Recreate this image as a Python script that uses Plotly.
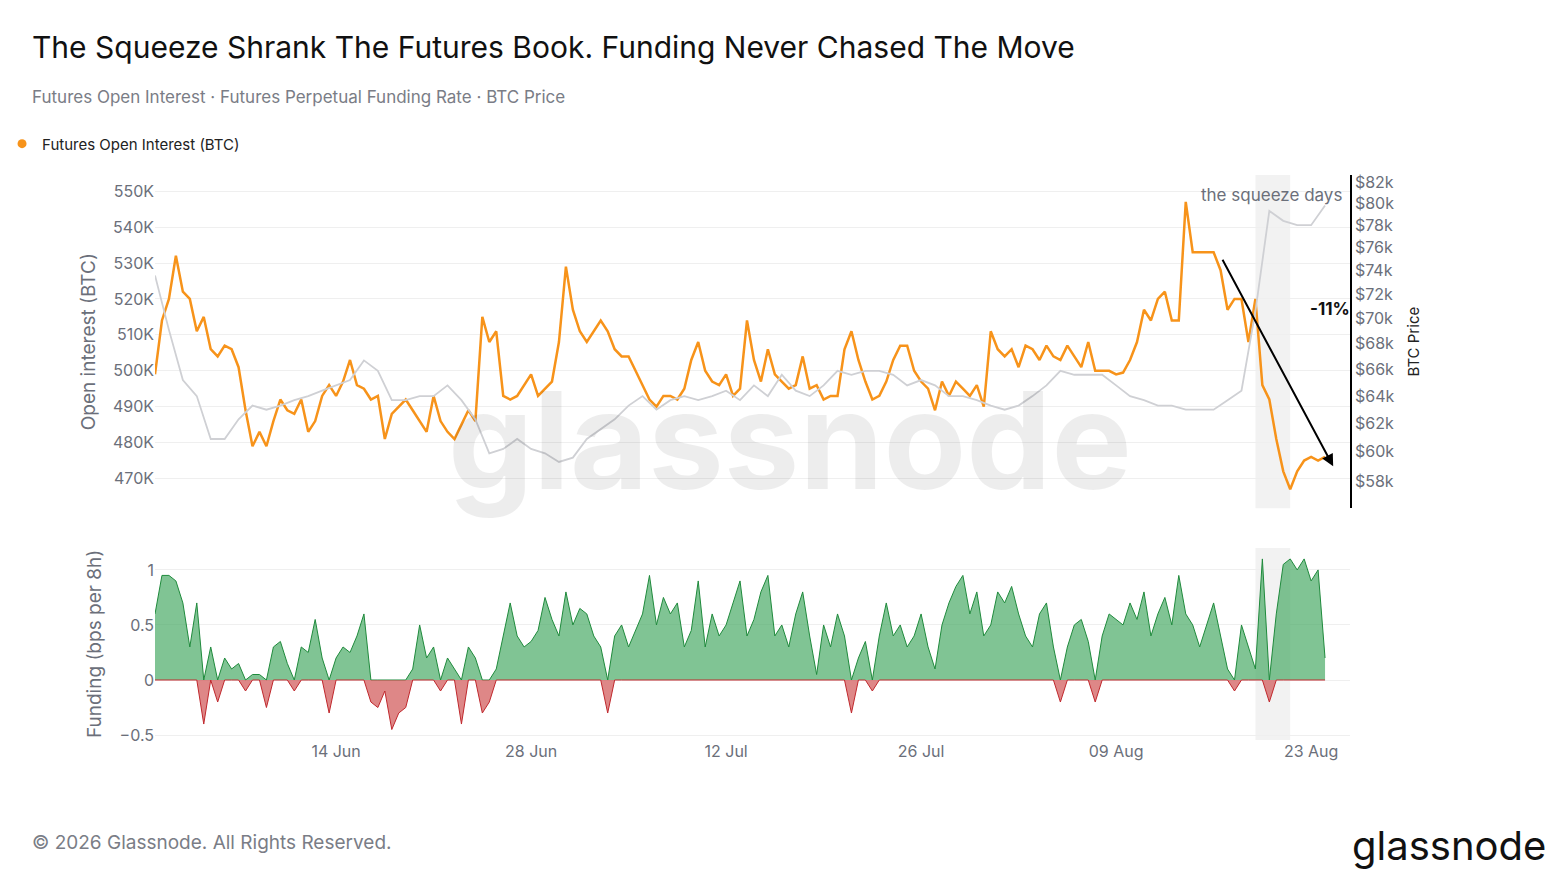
import pandas as pd, numpy as np
import plotly.graph_objects as go
from plotly.subplots import make_subplots

# open interest, thousands of BTC, every 12h from 1 Jun
oi_k = [499, 514, 520, 532, 522, 520, 511, 515, 506, 504, 507, 506, 501, 489, 479, 483, 479, 486,
        492, 489, 488, 492, 483, 486, 493, 496, 493, 497, 503, 496, 495, 492, 493, 481, 488, 490,
        492, 489, 486, 483, 493, 486, 483, 481, 485, 489, 486, 515, 508, 511, 493, 492, 493, 496,
        499, 493, 495, 497, 508, 529, 517, 511, 508, 511, 514, 511, 506, 504, 504, 500, 496, 492,
        490, 493, 493, 492, 495, 503, 508, 500, 497, 496, 499, 493, 495, 514, 503, 497, 506, 499,
        497, 495, 496, 504, 495, 496, 492, 493, 493, 506, 511, 503, 497, 492, 493, 497, 503, 507,
        507, 500, 497, 495, 489, 497, 493, 497, 495, 493, 496, 490, 511, 506, 504, 506, 501, 507,
        506, 503, 507, 504, 503, 507, 504, 501, 508, 500, 500, 500, 499, 499.5, 503, 508, 517, 514,
        520, 522, 514, 514, 547, 533, 533, 533, 533, 528, 517, 520, 520, 508, 520, 496, 492, 481,
        472, 467, 472, 475, 476, 475, 476]

# BTC price, thousands of USD, daily from 1 Jun
price_k = [73.6, 69.1, 65.2, 64.0, 60.9, 60.9, 62.3, 63.3, 63.0, 63.3, 63.7, 64.0, 64.4, 64.8,
           65.2, 66.7, 65.9, 63.7, 63.7, 64.0, 64.0, 64.8, 63.7, 62.3, 59.9, 60.2, 60.9, 60.2,
           59.9, 59.3, 59.6, 60.9, 61.6, 62.3, 63.3, 64.0, 63.0, 63.7, 64.0, 63.7, 64.0, 64.4,
           63.7, 64.8, 64.0, 65.6, 64.4, 64.0, 64.8, 65.9, 65.6, 65.9, 65.9, 65.6, 64.8, 65.2,
           64.8, 64.0, 64.0, 63.7, 63.3, 63.0, 63.3, 64.0, 64.8, 65.9, 65.6, 65.6, 65.6, 64.8,
           64.0, 63.7, 63.3, 63.3, 63.0, 63.0, 63.0, 63.7, 64.4, 70.6, 79.3, 78.4, 78.0, 78.0, 79.8]

# perpetual funding, bps per 8h, every 12h from 1 Jun
funding = [0.6, 0.95, 0.95, 0.9, 0.7, 0.3, 0.7, -0.4, 0.3, -0.2, 0.2, 0.1, 0.15, -0.1, 0.05, 0.05,
           -0.25, 0.3, 0.35, 0.15, -0.1, 0.3, 0.25, 0.55, 0.2, -0.3, 0.2, 0.3, 0.25, 0.4, 0.6, -0.2,
           -0.25, -0.1, -0.45, -0.3, -0.25, 0.1, 0.5, 0.2, 0.3, -0.1, 0.2, 0.1, -0.4, 0.3, 0.2, -0.3,
           -0.2, 0.1, 0.4, 0.7, 0.4, 0.3, 0.35, 0.45, 0.75, 0.55, 0.4, 0.8, 0.5, 0.65, 0.6, 0.4, 0.3,
           -0.3, 0.4, 0.5, 0.3, 0.45, 0.6, 0.95, 0.5, 0.75, 0.6, 0.7, 0.3, 0.45, 0.9, 0.3, 0.6, 0.4,
           0.5, 0.7, 0.9, 0.4, 0.55, 0.8, 0.95, 0.4, 0.5, 0.3, 0.6, 0.8, 0.4, 0.05, 0.5, 0.3, 0.6,
           0.4, -0.3, 0.2, 0.35, -0.1, 0.4, 0.7, 0.4, 0.5, 0.3, 0.4, 0.6, 0.3, 0.1, 0.5, 0.7, 0.85,
           0.95, 0.6, 0.8, 0.4, 0.5, 0.8, 0.7, 0.85, 0.6, 0.4, 0.3, 0.6, 0.7, 0.3, -0.2, 0.3, 0.5,
           0.55, 0.35, -0.2, 0.4, 0.6, 0.55, 0.5, 0.7, 0.55, 0.8, 0.4, 0.6, 0.75, 0.5, 0.95, 0.6,
           0.5, 0.3, 0.5, 0.7, 0.4, 0.1, -0.1, 0.5, 0.3, 0.1, 1.1, -0.2, 0.6, 1.05, 1.1, 1.0, 1.1,
           0.9, 1.0, 0.2]

price_ticks = [58, 60, 62, 64, 66, 68, 70, 72, 74, 76, 78, 80, 82]
date_ticks = ["2024-06-14", "2024-06-28", "2024-07-12", "2024-07-26", "2024-08-09", "2024-08-23"]

start = pd.Timestamp("2024-06-01")
t_oi = start + pd.to_timedelta(np.arange(len(oi_k)) * 12, unit="h")
t_px = start + pd.to_timedelta(np.arange(len(price_k)) * 24, unit="h")
t_f = start + pd.to_timedelta(np.arange(len(funding)) * 12, unit="h")
f = np.array(funding)

fig = make_subplots(rows=2, cols=1, specs=[[{"secondary_y": True}], [{}]], shared_xaxes=True)

fig.add_trace(go.Scatter(x=t_px, y=np.array(price_k) * 1000, mode="lines", showlegend=False,
                         line=dict(color="#cfd0d4", width=1.8), name="BTC Price"),
              row=1, col=1, secondary_y=True)
fig.add_trace(go.Scatter(x=t_oi, y=np.array(oi_k) * 1000, mode="lines", showlegend=False,
                         line=dict(color="#f7931a", width=2.5)), row=1, col=1, secondary_y=False)
# legend entry as a dot
fig.add_trace(go.Scatter(x=[None], y=[None], mode="markers", name="Futures Open Interest (BTC)",
                         marker=dict(color="#f7931a", size=9)), row=1, col=1)

fig.add_trace(go.Scatter(x=t_f, y=np.clip(f, 0, None), mode="lines", fill="tozeroy", showlegend=False,
                         line=dict(color="#1f8a3c", width=1), fillcolor="rgba(60,165,90,0.65)"), row=2, col=1)
fig.add_trace(go.Scatter(x=t_f, y=np.clip(f, None, 0), mode="lines", fill="tozeroy", showlegend=False,
                         line=dict(color="#c0282d", width=1), fillcolor="rgba(205,70,70,0.65)"), row=2, col=1)

# squeeze band
for yref in ["y domain", "y3 domain"]:
    fig.add_shape(type="rect", xref="x", yref=yref, x0="2024-08-19", x1="2024-08-21 12:00",
                  y0=0, y1=1, fillcolor="rgba(0,0,0,0.05)", line_width=0, layer="below")
fig.add_shape(type="line", xref="x3 domain", yref="y3", x0=0, x1=1, y0=0, y1=0,
              line=dict(color="#c0282d", width=1.5))

fig.add_annotation(x="2024-08-24 14:00", y=473400, ax="2024-08-16 14:00", ay=531300,
                   xref="x", yref="y", axref="x", ayref="y", text="", showarrow=True,
                   arrowhead=2, arrowsize=1.2, arrowwidth=2, arrowcolor="black")

fig.update_layout(
    width=1544, height=869, plot_bgcolor="white", paper_bgcolor="white",
    font=dict(family="Inter, Noto Sans, sans-serif", color="#6b6f7a", size=16),
    margin=dict(l=147, r=202, t=167, b=137, autoexpand=False),
    legend=dict(orientation="h", x=-0.128, y=1.055, xanchor="left", yanchor="middle",
                font=dict(size=15, color="#222"), itemwidth=30),
    xaxis=dict(domain=[0, 1], range=["2024-06-01", "2024-08-25 19:00"], showticklabels=False, showgrid=False),
    xaxis2=dict(domain=[0, 1], range=["2024-06-01", "2024-08-25 19:00"], tickvals=date_ticks,
                tickformat="%d %b", showgrid=False, ticks=""),
    yaxis=dict(domain=[0.41, 1.0], range=[461700, 554500], tickvals=[470000, 480000, 490000, 500000,
               510000, 520000, 530000, 540000, 550000], ticktext=["470K", "480K", "490K", "500K", "510K",
               "520K", "530K", "540K", "550K"], gridcolor="#efefef", title=dict(text="Open interest (BTC)",
               standoff=12), zeroline=False, automargin=False),
    yaxis2=dict(type="log", range=[np.log10(56200), np.log10(82670)], tickvals=[v * 1000 for v in price_ticks],
                ticktext=["$%dk" % v for v in price_ticks], showgrid=False, showline=True, linecolor="black",
                linewidth=1.5, title=dict(text="BTC Price", font=dict(size=15, color="#222")), ticks="",
                automargin=False),
    yaxis3=dict(domain=[0, 0.34], range=[-0.545, 1.2], tickvals=[-0.5, 0, 0.5, 1],
                ticktext=["−0.5", "0", "0.5", "1"], gridcolor="#efefef", zeroline=False,
                title=dict(text="Funding (bps per 8h)", standoff=12), automargin=False),
)

ann = [
    dict(x=-0.1046, y=1.2265, text="The Squeeze Shrank The Futures Book. Funding Never Chased The Move",
         font=dict(size=30, color="#111")),
    dict(x=-0.1046, y=1.138, text="Futures Open Interest · Futures Perpetual Funding Rate · BTC Price",
         font=dict(size=17, color="#7a7d86")),
    dict(x=-0.1046, y=-0.182, text="© 2026 Glassnode. All Rights Reserved.", font=dict(size=19, color="#7a7d86")),
    dict(x=1.1657, y=-0.186, text="glassnode", xanchor="right", font=dict(size=40, color="#111")),
    dict(x=0.995, y=0.9646, text="the squeeze days", xanchor="right", font=dict(size=17, color="#6b6f7a")),
    dict(x=1.0017, y=0.763, text="<b>-11%</b>", xanchor="right", font=dict(size=17, color="#111")),
    dict(x=0.531, y=0.531, text="<b>glassnode</b>", xanchor="center",
         font=dict(size=135, color="rgba(0,0,0,0.07)")),
]
for a in ann:
    fig.add_annotation(xref="paper", yref="paper", showarrow=False, yanchor="middle",
                       **{"xanchor": "left", **a})

fig.write_html("out.html")
